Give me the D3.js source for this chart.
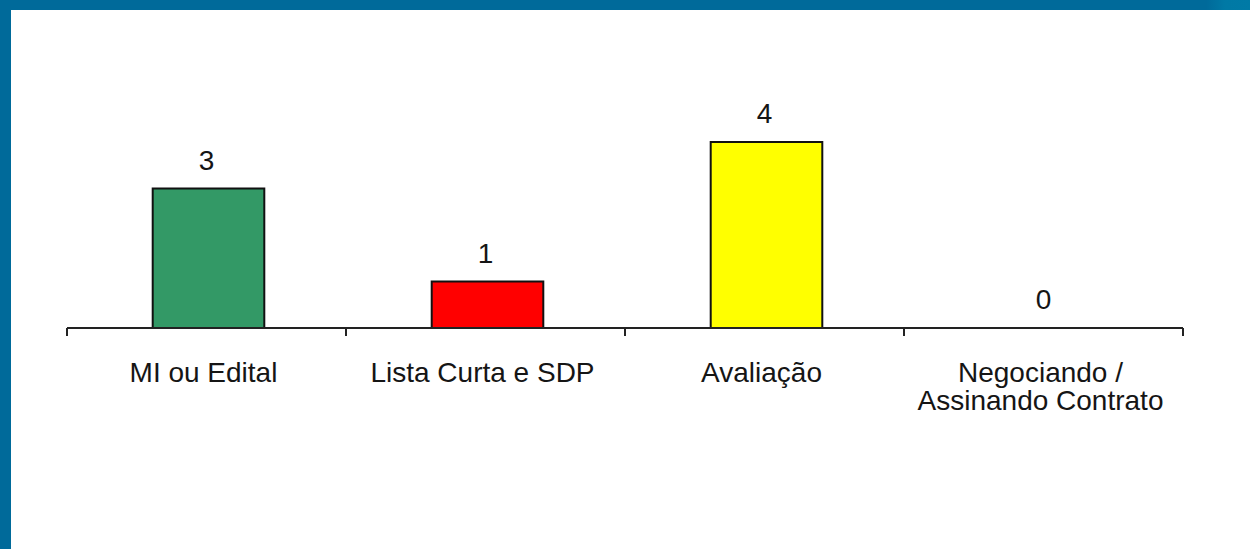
<!DOCTYPE html>
<html>
<head>
<meta charset="utf-8">
<script src="https://cdn.jsdelivr.net/npm/d3@7"></script>
<style>
  body { margin: 0; background: #fff; }
  svg { display: block; }
  text { font-family: "Liberation Sans", Arial, sans-serif; fill: #151515; }
</style>
</head>
<body>
<svg id="chart" width="1250" height="549"></svg>
<script>
const categories = ["MI ou Edital", "Lista Curta e SDP", "Avaliação", "Negociando /\nAssinando Contrato"];
const values = [3, 1, 4, 0];
const colors = ["#339966", "#ff0000", "#ffff00", "#cccccc"];

const svg = d3.select("#chart");
const width = +svg.attr("width");
const height = +svg.attr("height");

// blue frame on top and left
const defs = svg.append("defs");
const grad = defs.append("linearGradient").attr("id", "topbar");
grad.append("stop").attr("offset", "0%").attr("stop-color", "#006a9a");
grad.append("stop").attr("offset", "96.5%").attr("stop-color", "#006a9a");
grad.append("stop").attr("offset", "98%").attr("stop-color", "#0079a5");
grad.append("stop").attr("offset", "100%").attr("stop-color", "#007aa6");
svg.append("rect").attr("x", 0).attr("y", 0).attr("width", width).attr("height", 10).attr("fill", "url(#topbar)");
svg.append("rect").attr("x", 0).attr("y", 0).attr("width", 11).attr("height", height).attr("fill", "#006a9a");

const baseY = 328;
const x = d3.scaleBand().domain(categories).range([67, 1183]).padding(0);
const xBar = d3.scaleBand().domain(categories).range([69, 1185]).paddingInner(0.6).paddingOuter(0.3);
const y = d3.scaleLinear().domain([0, 4]).range([baseY, baseY - 186]);

const data = categories.map((c, i) => ({cat: c, value: values[i], color: colors[i]}));

svg.selectAll(".bar")
  .data(data.filter(d => d.value > 0))
  .enter().append("rect")
  .attr("class", "bar")
  .attr("x", d => xBar(d.cat))
  .attr("y", d => y(d.value))
  .attr("width", xBar.bandwidth())
  .attr("height", d => y(0) - y(d.value))
  .attr("fill", d => d.color)
  .attr("stroke", "#111")
  .attr("stroke-width", 2);

// axis
const axis = svg.append("g").attr("transform", `translate(0,${baseY})`)
  .call(d3.axisBottom(x).tickSize(0).tickFormat(""));
axis.select(".domain").remove();
axis.append("line").attr("x1", 67).attr("x2", 1183).attr("y1", 0).attr("y2", 0)
  .attr("stroke", "#222").attr("stroke-width", 2);
const edges = categories.map(c => x(c)).concat([x(categories[categories.length - 1]) + x.bandwidth()]);
axis.selectAll(".edge").data(edges).enter().append("line")
  .attr("class", "edge")
  .attr("x1", d => d).attr("x2", d => d)
  .attr("y1", 0).attr("y2", 8)
  .attr("stroke", "#222").attr("stroke-width", 2);

// value labels
svg.selectAll(".val")
  .data(data)
  .enter().append("text")
  .attr("class", "val")
  .attr("x", d => x(d.cat) + x.bandwidth() / 2)
  .attr("y", d => y(d.value) - 19)
  .attr("text-anchor", "middle")
  .style("font-size", "28px")
  .text(d => d.value);

// category labels, one text per line
svg.selectAll(".cat")
  .data(data.flatMap(d => d.cat.split("\n").map((line, i) => ({cat: d.cat, line, i}))))
  .enter().append("text")
  .attr("class", "cat")
  .attr("text-anchor", "middle")
  .style("font-size", "28px")
  .attr("x", d => x(d.cat) + x.bandwidth() / 2 - 3)
  .attr("y", d => 382 + d.i * 28)
  .text(d => d.line);
</script>
</body>
</html>
